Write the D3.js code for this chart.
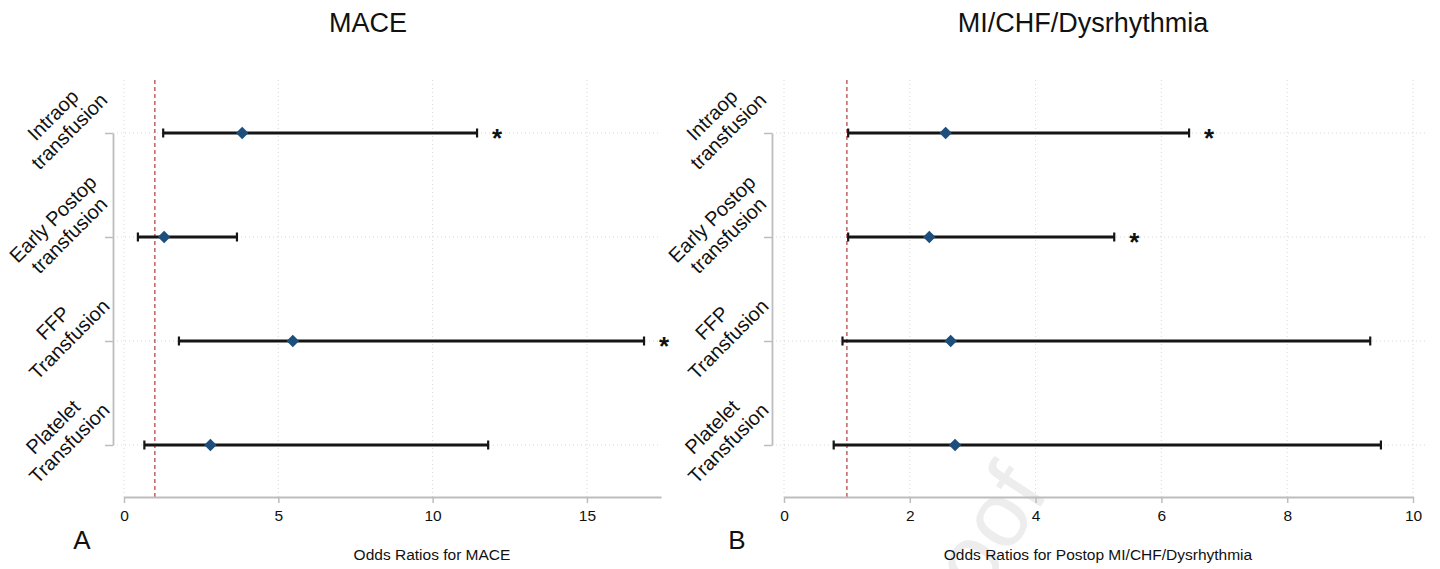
<!DOCTYPE html>
<html>
<head>
<meta charset="utf-8">
<script src="https://cdn.jsdelivr.net/npm/d3@7"></script>
<style>
  body { margin: 0; background: #fff; }
  svg { display: block; font-family: "Liberation Sans", Arial, Helvetica, sans-serif; }
</style>
</head>
<body>
<div id="chart"></div>
<script>
// Categories (two-line labels) and odds ratios
const categories = ["Intraop|transfusion", "Early Postop|transfusion", "FFP|Transfusion", "Platelet|Transfusion"];

const maceOR   = [3.83, 1.30, 5.47, 2.80];
const maceLow  = [1.27, 0.45, 1.78, 0.66];
const maceHigh = [11.44, 3.66, 16.85, 11.80];
const maceSig  = [true, false, true, false];
const maceTicks = [0, 5, 10, 15];

const mcdOR   = [2.57, 2.31, 2.65, 2.72];
const mcdLow  = [1.02, 1.02, 0.93, 0.79];
const mcdHigh = [6.44, 5.25, 9.32, 9.49];
const mcdSig  = [true, true, false, false];
const mcdTicks = [0, 2, 4, 6, 8, 10];

const width = 1440, height = 569;

const svg = d3.select("#chart").append("svg")
  .attr("width", width)
  .attr("height", height);

// faint watermark behind everything
svg.append("text")
  .attr("transform", "translate(1050,492) rotate(-57)")
  .attr("text-anchor", "end")
  .attr("font-size", 92)
  .attr("fill", "#ededed")
  .text("Journal Pre-proof");

const panels = [
  { title: "MACE", titleX: 368, letter: "A", letterX: 82,
    xTitle: "Odds Ratios for MACE", xTitleX: 432,
    or: maceOR, low: maceLow, high: maceHigh, sig: maceSig, ticks: maceTicks,
    domain: [0, 17.4], range: [124, 661], axisX: 113, gridEnd: 658 },
  { title: "MI/CHF/Dysrhythmia", titleX: 1083, letter: "B", letterX: 737,
    xTitle: "Odds Ratios for Postop MI/CHF/Dysrhythmia", xTitleX: 1098,
    or: mcdOR, low: mcdLow, high: mcdHigh, sig: mcdSig, ticks: mcdTicks,
    domain: [0, 10], range: [784, 1413], axisX: 772, gridEnd: 1426 }
];

const plotTop = 80, axisY = 497;

const y = d3.scalePoint()
  .domain(categories)
  .range([133, 445]);

panels.forEach(p => {
  const x = d3.scaleLinear().domain(p.domain).range(p.range);
  const g = svg.append("g");

  // vertical grid
  g.selectAll(".vgrid")
    .data(p.ticks)
    .join("line")
    .attr("x1", d => x(d)).attr("x2", d => x(d))
    .attr("y1", plotTop).attr("y2", axisY)
    .attr("stroke", "#d8d8d8")
    .attr("stroke-width", 1)
    .attr("stroke-dasharray", "1,3");

  // horizontal grid
  g.selectAll(".hgrid")
    .data(categories)
    .join("line")
    .attr("x1", p.axisX).attr("x2", p.gridEnd)
    .attr("y1", d => y(d)).attr("y2", d => y(d))
    .attr("stroke", "#d8d8d8")
    .attr("stroke-width", 1)
    .attr("stroke-dasharray", "1,3");

  // reference line at OR = 1
  g.append("line")
    .attr("x1", x(1)).attr("x2", x(1))
    .attr("y1", plotTop).attr("y2", axisY)
    .attr("stroke", "#b8474b")
    .attr("stroke-width", 1.3)
    .attr("stroke-dasharray", "4,3");

  // x axis
  const xAxis = g.append("g")
    .attr("transform", `translate(0,${axisY})`)
    .call(d3.axisBottom(x).tickValues(p.ticks).tickSize(6).tickPadding(7).tickSizeOuter(0));
  xAxis.select(".domain").attr("stroke", "#bdbdbd").attr("stroke-width", 1.8);
  xAxis.selectAll(".tick line").attr("stroke", "#bdbdbd").attr("stroke-width", 1.5);
  xAxis.selectAll(".tick text")
    .attr("fill", "#111")
    .attr("font-size", 15.5)
    .attr("font-family", "Liberation Sans, Arial, sans-serif");

  // y axis (bracket between first and last category)
  const yAxis = g.append("g")
    .attr("transform", `translate(${p.axisX},0)`)
    .call(d3.axisLeft(y).tickSize(8).tickSizeOuter(0).tickFormat(""));
  yAxis.select(".domain").attr("stroke", "#bdbdbd").attr("stroke-width", 1.8);
  yAxis.selectAll(".tick line").attr("stroke", "#bdbdbd").attr("stroke-width", 1.5);

  // rotated two-line category labels
  const lab = g.selectAll(".cat")
    .data(categories)
    .join("text")
    .attr("transform", d => `translate(${p.axisX - 52},${y(d) - 10}) rotate(-45)`)
    .attr("text-anchor", "middle")
    .attr("font-size", 20)
    .attr("fill", "#111");
  lab.each(function(d) {
    const lines = d.split("|");
    d3.select(this).selectAll("tspan")
      .data(lines)
      .join("tspan")
      .attr("x", 0)
      .attr("y", (l, i) => (i - (lines.length - 1) / 2) * 23 + 7)
      .text(l => l);
  });

  // confidence intervals
  const rows = categories.map((c, i) => ({ c, or: p.or[i], lo: p.low[i], hi: p.high[i], sig: p.sig[i] }));

  g.selectAll(".ci")
    .data(rows)
    .join("line")
    .attr("x1", d => x(d.lo)).attr("x2", d => x(d.hi))
    .attr("y1", d => y(d.c)).attr("y2", d => y(d.c))
    .attr("stroke", "#151515")
    .attr("stroke-width", 3);

  ["lo", "hi"].forEach(k => {
    g.selectAll(".cap-" + k)
      .data(rows)
      .join("line")
      .attr("x1", d => x(d[k])).attr("x2", d => x(d[k]))
      .attr("y1", d => y(d.c) - 4.5).attr("y2", d => y(d.c) + 4.5)
      .attr("stroke", "#151515")
      .attr("stroke-width", 2.2);
  });

  // point estimates
  g.selectAll(".pt")
    .data(rows)
    .join("path")
    .attr("d", d3.symbol(d3.symbolSquare, 78))
    .attr("transform", d => `translate(${x(d.or)},${y(d.c)}) rotate(45)`)
    .attr("fill", "#1d4e7c");

  // significance stars
  g.selectAll(".star")
    .data(rows.filter(d => d.sig))
    .join("text")
    .attr("x", d => x(d.hi) + 20)
    .attr("y", d => y(d.c) + 14)
    .attr("text-anchor", "middle")
    .attr("font-size", 26)
    .attr("font-weight", "bold")
    .attr("fill", "#111")
    .text("*");

  // titles
  g.append("text")
    .attr("x", p.titleX).attr("y", 32)
    .attr("text-anchor", "middle")
    .attr("font-size", 27)
    .attr("fill", "#111")
    .text(p.title);

  g.append("text")
    .attr("x", p.xTitleX).attr("y", 560)
    .attr("text-anchor", "middle")
    .attr("font-size", 15.5)
    .attr("fill", "#111")
    .text(p.xTitle);

  g.append("text")
    .attr("x", p.letterX).attr("y", 549)
    .attr("text-anchor", "middle")
    .attr("font-size", 26)
    .attr("fill", "#111")
    .text(p.letter);
});
</script>
</body>
</html>
